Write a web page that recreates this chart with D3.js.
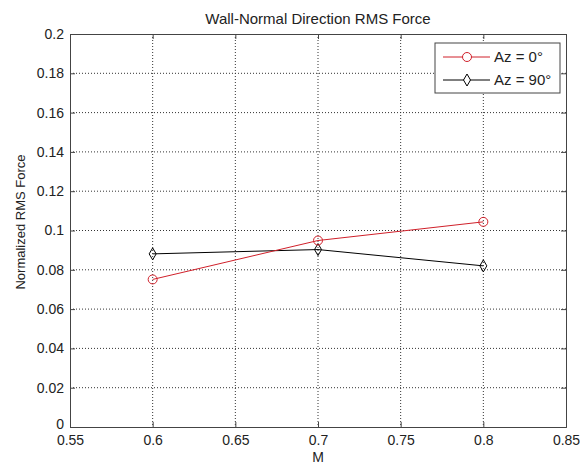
<!DOCTYPE html>
<html>
<head>
<meta charset="utf-8">
<script src="https://cdn.jsdelivr.net/npm/d3@7"></script>
<style>
  body { margin: 0; background: #fff; }
  text { font-family: "Liberation Sans", Arial, sans-serif; fill: #222; }
</style>
</head>
<body>
<div id="chart"></div>
<script>
// ===== Data =====
let machs = [0.6, 0.7, 0.8];
let az0 = [0.0751, 0.0949, 0.1044];
let az90 = [0.0881, 0.0903, 0.0820];
let xTicks = [0.55, 0.6, 0.65, 0.7, 0.75, 0.8, 0.85];
let yTicks = [0, 0.02, 0.04, 0.06, 0.08, 0.1, 0.12, 0.14, 0.16, 0.18, 0.2];
let seriesNames = ["Az = 0°", "Az = 90°"];

let W = 580, H = 466;
let margin = {top: 34, right: 14, bottom: 39, left: 70},
    width = W - margin.left - margin.right,
    height = H - margin.top - margin.bottom;

let x = d3.scaleLinear().domain([0.55, 0.85]).range([0, width]),
    y = d3.scaleLinear().domain([0, 0.2]).range([height, 0]);

let svg = d3.select("#chart").append("svg")
    .attr("width", W)
    .attr("height", H);

let g = svg.append("g")
    .attr("transform", "translate(" + margin.left + "," + margin.top + ")");

let axisColor = "#444";

// grid
g.append("g").selectAll("line.gx")
  .data(xTicks.slice(1, -1))
  .enter().append("line")
    .attr("x1", d => x(d)).attr("x2", d => x(d))
    .attr("y1", 0).attr("y2", height)
    .attr("stroke", "#333").attr("stroke-width", 1)
    .attr("stroke-dasharray", "1,2");
g.append("g").selectAll("line.gy")
  .data(yTicks.slice(1, -1))
  .enter().append("line")
    .attr("y1", d => y(d)).attr("y2", d => y(d))
    .attr("x1", 0).attr("x2", width)
    .attr("stroke", "#333").attr("stroke-width", 1)
    .attr("stroke-dasharray", "1,2");

// axes (ticks inward, box)
let fmt = d => d3.format("")(d);
let xAxis = g.append("g")
    .attr("transform", "translate(0," + height + ")")
    .call(d3.axisBottom(x).tickValues(xTicks).tickSize(-5).tickPadding(8).tickFormat(fmt));
let xTop = g.append("g")
    .call(d3.axisTop(x).tickValues(xTicks).tickSize(-5).tickFormat(""));
let yAxis = g.append("g")
    .call(d3.axisLeft(y).tickValues(yTicks).tickSize(-5).tickPadding(6).tickFormat(fmt));
let yRight = g.append("g")
    .attr("transform", "translate(" + width + ",0)")
    .call(d3.axisRight(y).tickValues(yTicks).tickSize(-5).tickFormat(""));

[xAxis, xTop, yAxis, yRight].forEach(a => {
  a.selectAll("path").attr("stroke", axisColor);
  a.selectAll("line").attr("stroke", axisColor);
  a.selectAll("text")
    .attr("font-size", 14)
    .style("font-family", "'Liberation Sans', Arial, sans-serif")
    .attr("fill", "#222");
});
yAxis.selectAll("text").filter(d => d === 0).attr("dy", "0.1em");

// lines
let line = d3.line().x(d => x(d[0])).y(d => y(d[1]));
let redData = machs.map((m, i) => [m, az0[i]]);
let blackData = machs.map((m, i) => [m, az90[i]]);

g.append("path").datum(blackData)
    .attr("d", line).attr("fill", "none")
    .attr("stroke", "#000").attr("stroke-width", 1);
g.append("path").datum(redData)
    .attr("d", line).attr("fill", "none")
    .attr("stroke", "#d0202a").attr("stroke-width", 1);

let diamond = (cx, cy) => "M" + cx + "," + (cy - 6) + "L" + (cx + 3.5) + "," + cy +
    "L" + cx + "," + (cy + 6) + "L" + (cx - 3.5) + "," + cy + "Z";

g.selectAll("path.dia").data(blackData).enter().append("path")
    .attr("class", "dia")
    .attr("d", d => diamond(x(d[0]), y(d[1])))
    .attr("fill", "none").attr("stroke", "#000").attr("stroke-width", 1);
g.selectAll("circle.circ").data(redData).enter().append("circle")
    .attr("class", "circ")
    .attr("cx", d => x(d[0])).attr("cy", d => y(d[1])).attr("r", 4.5)
    .attr("fill", "none").attr("stroke", "#d0202a").attr("stroke-width", 1);

// legend
let lg = svg.append("g").attr("transform", "translate(435,43)");
lg.append("rect").attr("width", 125).attr("height", 50)
    .attr("fill", "#fff").attr("stroke", axisColor).attr("stroke-width", 1);
let colors = ["#d0202a", "#000"];
seriesNames.forEach((name, i) => {
  let ly = 14 + i * 23;
  lg.append("line").attr("x1", 8).attr("x2", 55).attr("y1", ly).attr("y2", ly)
    .attr("stroke", colors[i]).attr("stroke-width", 1);
  if (i === 0) {
    lg.append("circle").attr("cx", 32).attr("cy", ly).attr("r", 4.5)
      .attr("fill", "#fff").attr("stroke", colors[i]);
  } else {
    lg.append("path").attr("d", diamond(32, ly))
      .attr("fill", "#fff").attr("stroke", colors[i]);
  }
  lg.append("text").attr("x", 59).attr("y", ly).attr("dy", "0.35em")
    .attr("font-size", 15).text(name);
});

// titles
svg.append("text").attr("x", margin.left + width / 2).attr("y", 24)
    .attr("text-anchor", "middle").attr("font-size", 15)
    .text("Wall-Normal Direction RMS Force");
svg.append("text").attr("x", margin.left + width / 2).attr("y", 462)
    .attr("text-anchor", "middle").attr("font-size", 14).text("M");
svg.append("text")
    .attr("transform", "translate(25,222) rotate(-90)")
    .attr("text-anchor", "middle").attr("font-size", 13)
    .text("Normalized RMS Force");
</script>
</body>
</html>
